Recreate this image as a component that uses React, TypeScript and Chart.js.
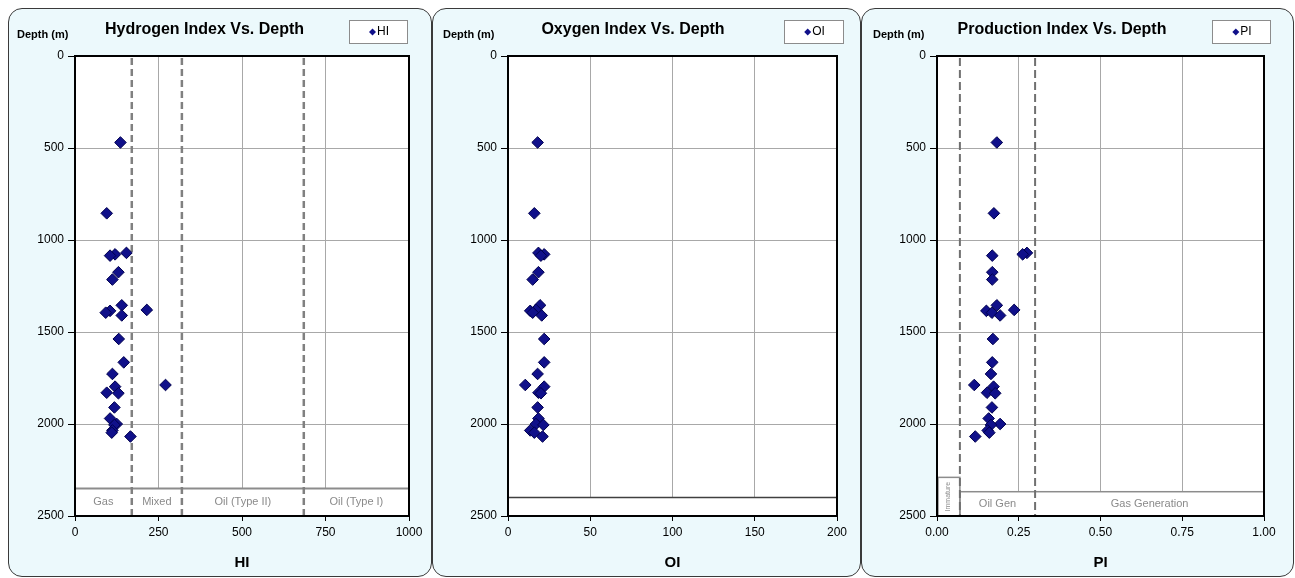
import React, { useEffect, useRef } from "react";
import { Chart, registerables } from "chart.js";

Chart.register(...registerables);

// Sample depths (m), shared by the three Rock-Eval indices
const depths = [470, 855, 1070, 1078, 1085, 1175, 1215, 1355, 1380, 1385, 1395, 1410, 1538, 1665, 1728, 1788, 1797, 1830, 1833, 1910, 1970, 2000, 2005, 2035, 2047, 2068];
const hiValues = [136, 95, 154, 120, 105, 130, 112, 140, 215, 105, 92, 140, 131, 146, 112, 271, 120, 95, 130, 118, 105, 125, 118, 112, 110, 166];
const oiValues = [18, 16, 18.5, 22, 20, 18.5, 15, 19.5, 17, 13.5, 15, 20.5, 22, 22, 18, 10.5, 22, 18.5, 20, 18, 18.5, 17, 21.5, 13.5, 16, 21];
const piValues = [0.183, 0.174, 0.275, 0.262, 0.169, 0.169, 0.169, 0.183, 0.236, 0.151, 0.168, 0.193, 0.171, 0.169, 0.165, 0.114, 0.173, 0.153, 0.178, 0.168, 0.158, 0.193, 0.165, 0.155, 0.16, 0.117];

// Axis ticks
const depthTicks = [0, 500, 1000, 1500, 2000, 2500];
const hiTicks = [0, 250, 500, 750, 1000];
const oiTicks = [0, 50, 100, 150, 200];
const piTicks = [0, 0.25, 0.5, 0.75, 1];

// Interpretation zones
const hiZoneBounds = [170, 320, 685];
const hiZoneLabels = ["Gas", "Mixed", "Oil (Type II)", "Oil (Type I)"];
const hiBandTop = 2350;
const oiBandTop = 2400;
const piZoneBounds = [0.07, 0.3];
const piZoneLabels = ["Immature", "Oil Gen", "Gas Generation"];
const piBandTops = [2290, 2368];

const FONT = '"Liberation Sans", Arial, sans-serif';
const PANEL_TOP = 8;
const PANEL_H = 569;
const PLOT_TOP = 48;
const PLOT_BOTTOM = 508;

type ZoneDrawer = (chart: any) => void;

interface PanelSpec {
  left: number;
  width: number;
  plotLeft: number;
  plotRight: number;
  title: string;
  titleX: number;
  depthLabelX: number;
  legendBox: [number, number, number, number];
  seriesName: string;
  axisTitle: string;
  values: number[];
  xTicks: number[];
  decimals: number;
  zones: ZoneDrawer;
}

function dashedV(ctx: CanvasRenderingContext2D, x: number, top: number, bottom: number, color: string, width: number, dash: number[]) {
  ctx.save();
  ctx.strokeStyle = color;
  ctx.lineWidth = width;
  ctx.setLineDash(dash);
  ctx.beginPath();
  ctx.moveTo(x, top + 2);
  ctx.lineTo(x, bottom);
  ctx.stroke();
  ctx.restore();
}

function zoneText(ctx: CanvasRenderingContext2D, text: string, x: number, y: number, size = 11) {
  ctx.save();
  ctx.fillStyle = "#8a8a8a";
  ctx.font = `${size}px ${FONT}`;
  ctx.textAlign = "center";
  ctx.textBaseline = "middle";
  ctx.fillText(text, x, y);
  ctx.restore();
}

const drawHiZones: ZoneDrawer = (chart) => {
  const { ctx, chartArea: a, scales } = chart;
  const xs = scales.x, ys = scales.y;
  const top = ys.getPixelForValue(hiBandTop);
  ctx.save();
  ctx.fillStyle = "#ffffff";
  ctx.fillRect(a.left, top, a.right - a.left, a.bottom - top);
  ctx.strokeStyle = "#8c8c8c";
  ctx.lineWidth = 2;
  ctx.beginPath();
  ctx.moveTo(a.left, top);
  ctx.lineTo(a.right, top);
  ctx.stroke();
  ctx.restore();
  const edges = [xs.min, ...hiZoneBounds, xs.max];
  const midY = (top + a.bottom) / 2;
  hiZoneLabels.forEach((lab, i) => {
    const cx = (xs.getPixelForValue(edges[i]) + xs.getPixelForValue(edges[i + 1])) / 2;
    zoneText(ctx, lab, cx, midY);
  });
  hiZoneBounds.forEach((b) => dashedV(ctx, xs.getPixelForValue(b), a.top, a.bottom, "#808080", 2.5, [7, 4]));
};

const drawOiZones: ZoneDrawer = (chart) => {
  const { ctx, chartArea: a, scales } = chart;
  const top = scales.y.getPixelForValue(oiBandTop);
  ctx.save();
  ctx.fillStyle = "#ffffff";
  ctx.fillRect(a.left, top, a.right - a.left, a.bottom - top);
  ctx.strokeStyle = "#404040";
  ctx.lineWidth = 1.5;
  ctx.beginPath();
  ctx.moveTo(a.left, top);
  ctx.lineTo(a.right, top);
  ctx.stroke();
  ctx.restore();
};

const drawPiZones: ZoneDrawer = (chart) => {
  const { ctx, chartArea: a, scales } = chart;
  const xs = scales.x, ys = scales.y;
  const x0 = xs.getPixelForValue(0);
  const x1 = xs.getPixelForValue(piZoneBounds[0]);
  const x2 = xs.getPixelForValue(piZoneBounds[1]);
  const xEnd = xs.getPixelForValue(1);
  const immTop = ys.getPixelForValue(piBandTops[0]);
  const bandTop = ys.getPixelForValue(piBandTops[1]);
  ctx.save();
  ctx.fillStyle = "#ffffff";
  ctx.fillRect(x0, immTop, x1 - x0, a.bottom - immTop);
  ctx.fillRect(x1, bandTop, xEnd - x1, a.bottom - bandTop);
  ctx.strokeStyle = "#8c8c8c";
  ctx.lineWidth = 1.5;
  ctx.strokeRect(x0 + 1, immTop, x1 - x0 - 1, a.bottom - immTop);
  ctx.strokeRect(x1, bandTop, xEnd - x1, a.bottom - bandTop);
  ctx.restore();

  // rotated label inside the narrow immature box
  ctx.save();
  ctx.translate((x0 + x1) / 2, (immTop + a.bottom) / 2);
  ctx.rotate(-Math.PI / 2);
  zoneText(ctx, piZoneLabels[0], 0, 0, 7);
  ctx.restore();

  const midY = (bandTop + a.bottom) / 2;
  zoneText(ctx, piZoneLabels[1], (x1 + x2) / 2, midY);
  zoneText(ctx, piZoneLabels[2], (x2 + xEnd) / 2, midY);
  piZoneBounds.forEach((b) => dashedV(ctx, xs.getPixelForValue(b), a.top, a.bottom, "#707070", 2, [8, 4]));
};

const panels: PanelSpec[] = [
  {
    left: 8, width: 424, plotLeft: 67, plotRight: 401,
    title: "Hydrogen Index Vs. Depth", titleX: 196.5, depthLabelX: 9,
    legendBox: [341, 12, 58, 23], seriesName: "HI", axisTitle: "HI",
    values: hiValues, xTicks: hiTicks, decimals: 0, zones: drawHiZones,
  },
  {
    left: 432, width: 429, plotLeft: 76, plotRight: 405,
    title: "Oxygen Index Vs. Depth", titleX: 201, depthLabelX: 11,
    legendBox: [352, 12, 59, 23], seriesName: "OI", axisTitle: "OI",
    values: oiValues, xTicks: oiTicks, decimals: 0, zones: drawOiZones,
  },
  {
    left: 861, width: 433, plotLeft: 76, plotRight: 403,
    title: "Production Index Vs. Depth", titleX: 201, depthLabelX: 12,
    legendBox: [351, 12, 58, 23], seriesName: "PI", axisTitle: "PI",
    values: piValues, xTicks: piTicks, decimals: 2, zones: drawPiZones,
  },
];

function DepthPanel({ spec }: { spec: PanelSpec }) {
  const ref = useRef<HTMLCanvasElement | null>(null);

  useEffect(() => {
    const canvas = ref.current;
    if (!canvas) return;
    const W = spec.width;
    const H = PANEL_H;

    const decor = {
      id: "panelDecor",
      beforeDraw(chart: any) {
        const { ctx, chartArea: a } = chart;
        ctx.save();
        ctx.fillStyle = "#ffffff";
        ctx.fillRect(a.left, a.top, a.right - a.left, a.bottom - a.top);
        ctx.restore();
      },
      beforeDatasetsDraw(chart: any) {
        const { ctx, chartArea: a } = chart;
        spec.zones(chart);
        ctx.save();
        ctx.strokeStyle = "#000000";
        ctx.lineWidth = 2;
        ctx.strokeRect(a.left, a.top, a.right - a.left, a.bottom - a.top);
        ctx.restore();
      },
      afterDraw(chart: any) {
        const { ctx, chartArea: a } = chart;
        ctx.save();
        // title
        ctx.fillStyle = "#000000";
        ctx.font = `bold 16px ${FONT}`;
        ctx.textAlign = "center";
        ctx.textBaseline = "middle";
        ctx.fillText(spec.title, spec.titleX, 22);
        // depth axis caption
        ctx.font = `bold 11px ${FONT}`;
        ctx.textAlign = "left";
        ctx.fillText("Depth (m)", spec.depthLabelX, 27);
        // x axis caption
        ctx.font = `bold 15px ${FONT}`;
        ctx.textAlign = "center";
        ctx.fillText(spec.axisTitle, (a.left + a.right) / 2, 555);
        // legend
        const [lx, ly, lw, lh] = spec.legendBox;
        ctx.fillStyle = "#ffffff";
        ctx.fillRect(lx, ly, lw, lh);
        ctx.strokeStyle = "#8c8c8c";
        ctx.lineWidth = 1;
        ctx.strokeRect(lx + 0.5, ly + 0.5, lw, lh);
        ctx.font = `12px ${FONT}`;
        const tw = ctx.measureText(spec.seriesName).width;
        const group = 8 + tw;
        const gx = lx + (lw - group) / 2 + 1;
        const cy = ly + lh / 2 + 0.5;
        ctx.fillStyle = "#10108a";
        ctx.beginPath();
        ctx.moveTo(gx + 3.5, cy - 3.5);
        ctx.lineTo(gx + 7, cy);
        ctx.lineTo(gx + 3.5, cy + 3.5);
        ctx.lineTo(gx, cy);
        ctx.closePath();
        ctx.fill();
        ctx.fillStyle = "#000000";
        ctx.textAlign = "left";
        ctx.fillText(spec.seriesName, gx + 8, cy);
        ctx.restore();
      },
    };

    const chart = new Chart(canvas, {
      type: "scatter",
      data: {
        datasets: [
          {
            label: spec.seriesName,
            data: depths.map((d, i) => ({ x: spec.values[i], y: d })),
            pointStyle: "rectRot",
            pointRadius: 5.8,
            pointHoverRadius: 5.8,
            backgroundColor: "#10108a",
            borderColor: "#00004f",
            borderWidth: 1,
          },
        ],
      },
      options: {
        animation: false,
        responsive: false,
        devicePixelRatio: 1,
        layout: {
          padding: { left: 0, top: PLOT_TOP, right: W - spec.plotRight, bottom: 0 },
        },
        plugins: {
          legend: { display: false },
          title: { display: false },
          tooltip: { enabled: false },
        },
        scales: {
          x: {
            type: "linear",
            position: "bottom",
            min: spec.xTicks[0],
            max: spec.xTicks[spec.xTicks.length - 1],
            afterBuildTicks: (s: any) => {
              s.ticks = spec.xTicks.map((v) => ({ value: v }));
            },
            afterFit: (s: any) => {
              s.height = H - PLOT_BOTTOM;
            },
            grid: { color: "#a8a8a8", lineWidth: 1, tickColor: "#000000", tickLength: 5, drawTicks: true },
            border: { display: true, color: "#000000", width: 2 },
            ticks: {
              color: "#000000",
              padding: 4,
              maxRotation: 0,
              font: { family: FONT, size: 12 },
              callback: (v: any) => Number(v).toFixed(spec.decimals),
            },
          },
          y: {
            type: "linear",
            position: "left",
            reverse: true,
            min: 0,
            max: 2500,
            afterBuildTicks: (s: any) => {
              s.ticks = depthTicks.map((v) => ({ value: v }));
            },
            afterFit: (s: any) => {
              s.width = spec.plotLeft;
            },
            grid: { color: "#a8a8a8", lineWidth: 1, tickColor: "#000000", tickLength: 7, drawTicks: true },
            border: { display: true, color: "#000000", width: 2 },
            ticks: {
              color: "#000000",
              padding: 4,
              font: { family: FONT, size: 12 },
              callback: (v: any) => String(v),
            },
          },
        },
      },
      plugins: [decor],
    } as any);

    return () => chart.destroy();
  }, [spec]);

  return (
    <div
      style={{
        position: "absolute",
        left: spec.left,
        top: PANEL_TOP,
        width: spec.width,
        height: PANEL_H,
      }}
    >
      <div
        style={{
          position: "absolute",
          inset: 0,
          boxSizing: "border-box",
          border: "1.5px solid #3a3a3a",
          borderRadius: 14,
          background: "#ecf9fc",
        }}
      />
      <canvas
        ref={ref}
        width={spec.width}
        height={PANEL_H}
        style={{ position: "absolute", left: 0, top: 0, width: spec.width, height: PANEL_H }}
      />
    </div>
  );
}

export default function App() {
  return (
    <div
      style={{
        position: "fixed",
        left: 0,
        top: 0,
        width: 1295,
        height: 578,
        overflow: "hidden",
        background: "#ffffff",
        fontFamily: FONT,
      }}
    >
      {panels.map((p) => (
        <DepthPanel key={p.seriesName} spec={p} />
      ))}
    </div>
  );
}
